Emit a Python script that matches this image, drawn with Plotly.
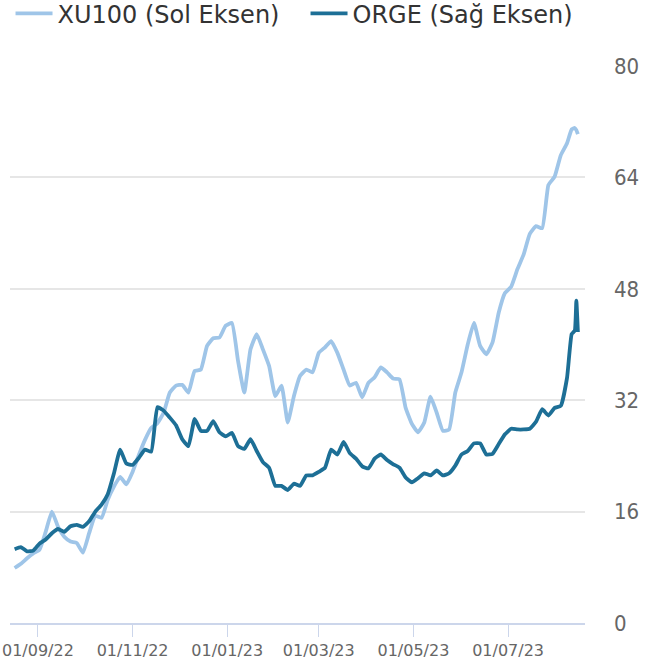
import pandas as pd
import plotly.graph_objects as go

# Dates: regular 4-day sampling, then the last few trading days
base_dates = list(pd.date_range("2022-08-17", periods=90, freq="4D").strftime("%Y-%m-%d"))
tail_dates = ["2023-08-11", "2023-08-13", "2023-08-14", "2023-08-15"]
dates = base_dates + tail_dates

xu100 = [7.9, 8.5, 9.3, 10.0, 10.5, 13.1, 16.0, 13.8, 12.4, 11.7,
         11.5, 10.1, 12.9, 15.4, 15.1, 17.7, 19.6, 21.0, 19.9, 21.7,
         24.1, 26.3, 28.0, 28.7, 30.2, 33.1, 34.1, 34.2, 33.1, 36.2,
         36.4, 39.8, 40.9, 41.0, 42.7, 43.1, 37.6, 33.1, 39.3, 41.5,
         39.3, 36.9, 32.6, 34.1, 28.8, 32.6, 35.5, 36.4, 36.0, 38.8,
         39.6, 40.5, 38.8, 36.4, 34.1, 34.5, 32.4, 34.5, 35.3, 36.7,
         36.0, 35.1, 35.0, 30.9, 28.6, 27.4, 28.8, 32.5, 30.2, 27.6,
         27.8, 33.1, 36.0, 40.0, 43.1, 39.8, 38.6, 40.3, 44.6, 47.4,
         48.3, 50.8, 52.9, 55.9, 57.0, 56.7, 62.9, 64.1, 67.2, 68.9,
         70.9, 71.1, 70.8, 70.2]

orge = [10.6, 10.9, 10.3, 10.4, 11.4, 12.0, 12.9, 13.5, 13.1, 13.9,
        14.1, 13.8, 14.6, 16.0, 17.0, 18.5, 21.5, 24.9, 22.9, 22.7,
        23.7, 24.9, 24.6, 31.0, 30.5, 29.5, 28.4, 26.4, 25.4, 29.3,
        27.6, 27.6, 29.0, 27.4, 26.8, 27.3, 25.4, 25.0, 26.4, 24.7,
        23.1, 22.3, 19.7, 19.7, 19.1, 20.0, 19.7, 21.2, 21.2, 21.7,
        22.3, 24.9, 24.2, 26.0, 24.4, 23.6, 22.5, 22.2, 23.6, 24.2,
        23.4, 22.8, 22.3, 20.9, 20.2, 20.8, 21.5, 21.2, 21.9, 21.2,
        21.5, 22.6, 24.2, 24.7, 25.8, 25.8, 24.2, 24.3, 25.7, 27.1,
        27.9, 27.8, 27.8, 27.9, 28.9, 30.7, 29.8, 30.9, 31.2, 35.2,
        41.5, 42.0, 46.3, 41.8]

tick_dates = ["2022-09-01", "2022-11-01", "2023-01-01", "2023-03-01", "2023-05-01", "2023-07-01"]
tick_labels = ["01/09/22", "01/11/22", "01/01/23", "01/03/23", "01/05/23", "01/07/23"]
y_ticks = [0, 16, 32, 48, 64, 80]

LIGHT = "#9fc5e8"
DARK = "#1d6f96"

fig = go.Figure()
fig.add_trace(go.Scatter(x=dates, y=xu100, name="XU100 (Sol Eksen)", mode="lines",
                         line=dict(color=LIGHT, width=3.8, shape="spline", smoothing=0.4),
                         yaxis="y"))
fig.add_trace(go.Scatter(x=dates, y=orge, name="ORGE (Sağ Eksen)", mode="lines",
                         line=dict(color=DARK, width=3.8, shape="spline", smoothing=0.4),
                         yaxis="y2"))

fig.update_layout(
    width=653, height=666,
    margin=dict(l=10, r=68, t=66, b=43, autoexpand=False),
    paper_bgcolor="white", plot_bgcolor="white",
    showlegend=True,
    legend=dict(orientation="h", x=1.027, xanchor="right", y=1.134, yanchor="top",
                font=dict(family="DejaVu Sans", size=24, color="#333333"),
                traceorder="normal", itemwidth=37,
                entrywidth=243, entrywidthmode="pixels"),
    xaxis=dict(type="date", range=["2022-08-14", "2023-08-19 14:00"],
               tickvals=tick_dates, ticktext=tick_labels,
               ticks="outside", ticklen=12, tickcolor="#ccd6eb", tickwidth=1,
               showline=True, linecolor="#ccd6eb", linewidth=2,
               showgrid=False, zeroline=False, automargin=False,
               ticklabeloverflow="allow",
               tickfont=dict(family="DejaVu Sans", size=16, color="#666666")),
    yaxis=dict(range=[0, 80], visible=False, showgrid=False, zeroline=False),
    yaxis2=dict(range=[0, 80], overlaying="y", side="right",
                tickvals=y_ticks, showgrid=True, gridcolor="#e6e6e6", gridwidth=1.5,
                zeroline=False, showline=False, ticks="", automargin=False,
                ticklabelstandoff=28,
                tickfont=dict(family="DejaVu Sans Condensed", size=22, color="#666666")),
)

fig.write_html("out.html",
               config={"displayModeBar": False},
               post_script="document.body.style.margin='0';document.body.style.padding='0';")
